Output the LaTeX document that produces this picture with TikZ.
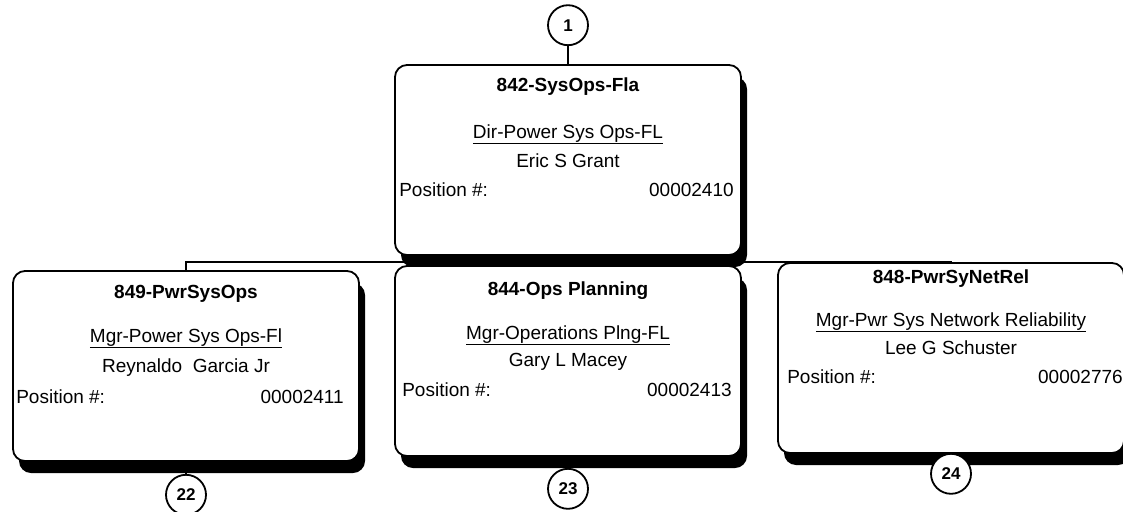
\documentclass[tikz,border=0pt]{standalone}
\usepackage{fontspec}
\setmainfont{Liberation Sans}
\usetikzlibrary{positioning, shadows}

\begin{document}
\begin{tikzpicture}[
    x=1pt, y=-1pt,
    card/.style={draw, rectangle, rounded corners=12pt, line width=1.8pt, minimum width=346pt, minimum height=190pt, fill=white, drop shadow={shadow xshift=6pt, shadow yshift=-12pt, fill=black, opacity=1}},
    head/.style={inner sep=0pt, font=\fontsize{19}{22}\selectfont\bfseries},
    line/.style={inner sep=0pt, font=\fontsize{19}{22}\selectfont},
    tag/.style={draw, circle, line width=1.8pt, minimum size=40pt, inner sep=0pt, fill=white, font=\fontsize{17}{20}\selectfont\bfseries},
    link/.style={line width=1.3pt}
]
\useasboundingbox (0,0) rectangle (1123,511);

% Director card
\node[card] (top) at (568,160) {};
\node[head] (topname) at ([yshift=-22pt]top.north) {842-SysOps-Fla};
\node[line] (topjob) at ([yshift=-70pt]top.north) {\underline{Dir-Power Sys Ops-FL}};
\node[line] (topwho) at ([yshift=-97pt]top.north) {Eric S Grant};
\node[line, anchor=west] (toppos) at ([xshift=5pt, yshift=-126pt]top.north west) {Position \#:};
\node[line, anchor=east] (topnum) at ([xshift=-8pt, yshift=-126pt]top.north east) {00002410};

% Bus to the managers
\coordinate (bus) at (568,262);
\draw[link] (top.south) -- (bus);

% Manager cards
\node[card] (left) at (186,366) {};
\node[head] (leftname) at ([yshift=-24pt]left.north) {849-PwrSysOps};
\node[line] (leftjob) at ([yshift=-68pt]left.north) {\underline{Mgr-Power Sys Ops-Fl}};
\node[line] (leftwho) at ([yshift=-97pt]left.north) {Reynaldo\ \ Garcia Jr};
\node[line, anchor=west] (leftpos) at ([xshift=4pt, yshift=-127pt]left.north west) {Position \#:};
\node[line, anchor=east] (leftnum) at ([xshift=-16pt, yshift=-127pt]left.north east) {00002411};

\node[card] (mid) at (568,361) {};
\node[head] (midname) at ([yshift=-26pt]mid.north) {844-Ops Planning};
\node[line] (midjob) at ([yshift=-70pt]mid.north) {\underline{Mgr-Operations Plng-FL}};
\node[line] (midwho) at ([yshift=-97pt]mid.north) {Gary L Macey};
\node[line, anchor=west] (midpos) at ([xshift=8pt, yshift=-125pt]mid.north west) {Position \#:};
\node[line, anchor=east] (midnum) at ([xshift=-10pt, yshift=-125pt]mid.north east) {00002413};

\node[card] (right) at (951,358) {};
\node[head] (rightname) at ([yshift=-16pt]right.north) {848-PwrSyNetRel};
\node[line] (rightjob) at ([yshift=-60pt]right.north) {\underline{Mgr-Pwr Sys Network Reliability}};
\node[line] (rightwho) at ([yshift=-86pt]right.north) {Lee G Schuster};
\node[line, anchor=west] (rightpos) at ([xshift=10pt, yshift=-115pt]right.north west) {Position \#:};
\node[line, anchor=east] (rightnum) at ([xshift=-2pt, yshift=-115pt]right.north east) {00002776};

\draw[link] (left.north) |- (bus) -| (right.north);
\draw[link] (bus) -- (mid.north);

% Number tags
\node[tag, above=18pt of top] (t1) {1};
\node[tag, below=12pt of left] (t22) {22};
\node[tag, below=11pt of mid] (t23) {23};
\node[tag, below=-1pt of right] (t24) {24};

\draw[link] (t1) -- (top);
\draw[link] (left.south) -- (t22);
\draw[link] (mid.south) -- (t23);
\end{tikzpicture}
\end{document}
